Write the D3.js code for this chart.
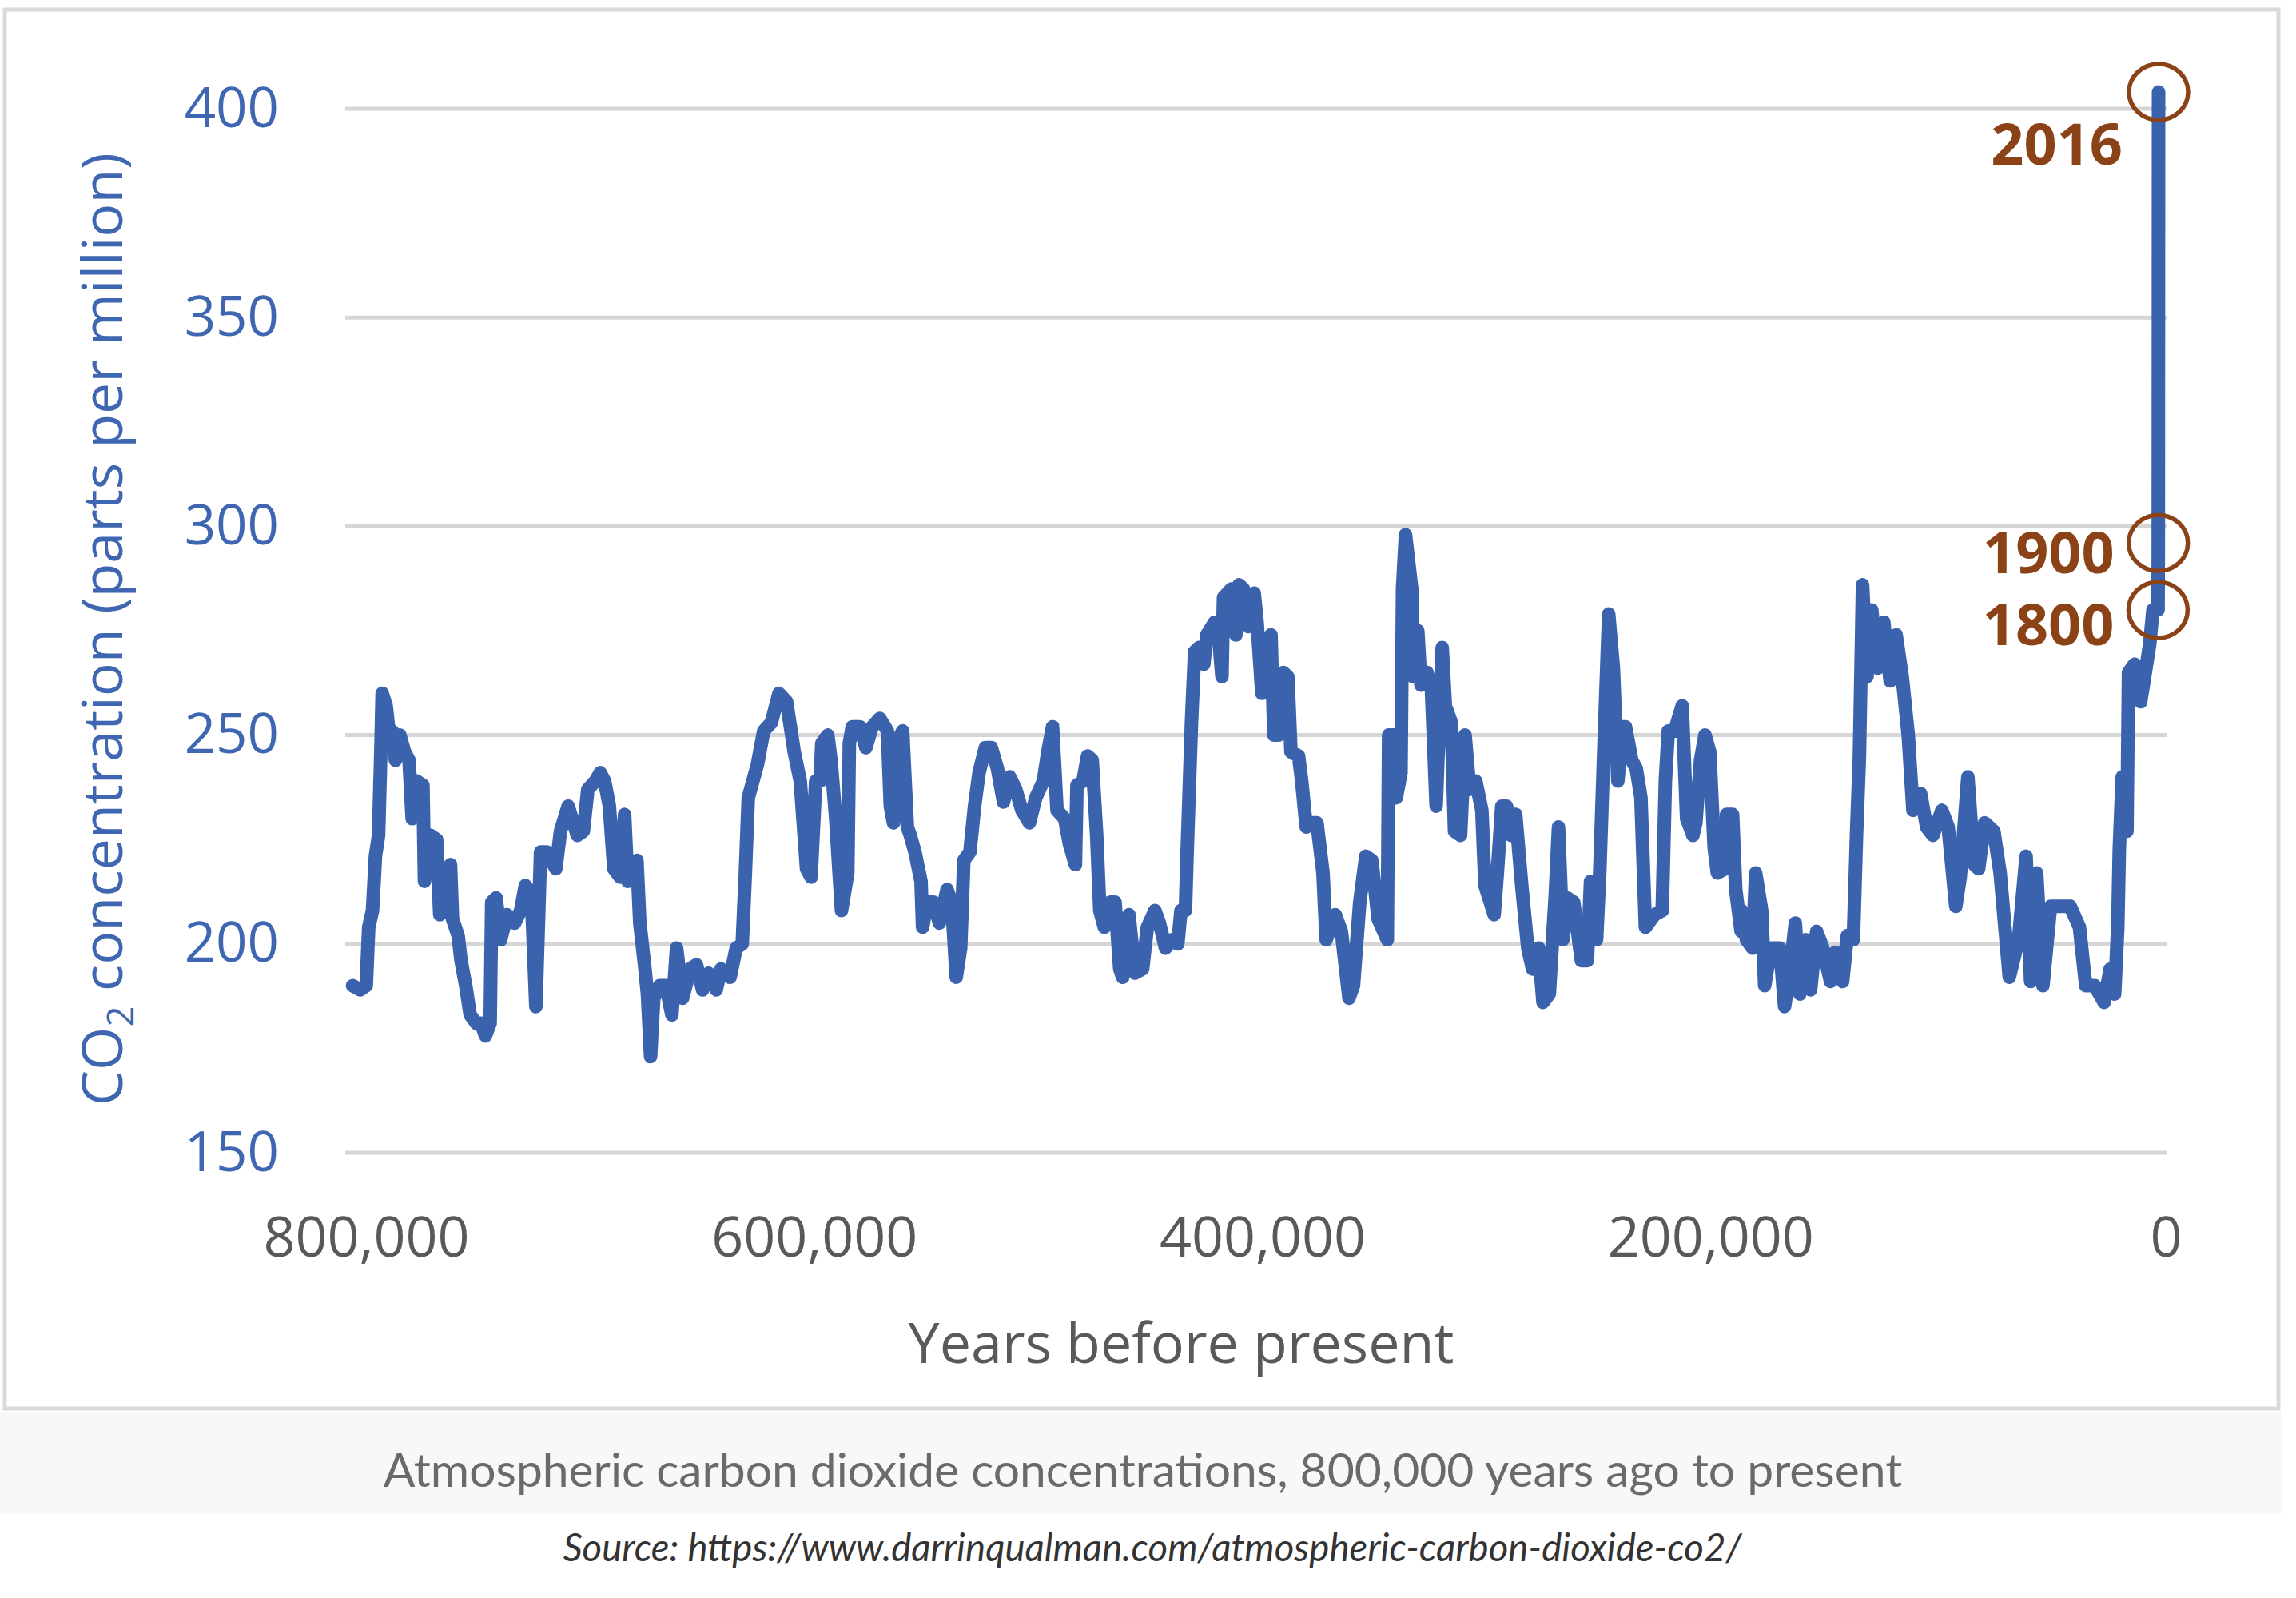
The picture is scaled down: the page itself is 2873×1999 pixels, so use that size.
<!DOCTYPE html>
<html>
<head>
<meta charset="utf-8">
<script src="https://cdn.jsdelivr.net/npm/d3@7"></script>
<style>
    html, body { margin: 0; padding: 0; background: #fff; }
    svg { display: block; }
</style>
</head>
<body>
<div id="chart"></div>
<script>
// Years before present and CO2 (ppm)
const yearsBP = [
    806000, 802600, 799900, 798800, 797100, 795800, 794400, 793300, 792800, 791000,
    789600, 788300, 786900, 784900, 782800, 780800, 779400, 777400, 774600, 773900,
    771200, 768500, 767100, 765100, 762300, 761400, 758900, 757600, 755500, 753500,
    750800, 748700, 746700, 744600, 743900, 741900, 739900, 737100, 733700, 731000,
    728900, 726200, 724200, 722100, 719400, 715300, 713200, 709800, 705700, 703000,
    701000, 697600, 695500, 693500, 691400, 689400, 686600, 684600, 683200, 679100,
    677800, 675700, 674400, 673000, 671600, 668900, 666200, 663500, 661400, 658700,
    655300, 652500, 649800, 647100, 643700, 641600, 637500, 634800, 632100, 630700,
    629400, 625300, 622500, 619100, 615700, 612300, 608900, 606200, 603400, 601400,
    599300, 597300, 596600, 593900, 592500, 590500, 587800, 585000, 584300, 583000,
    579600, 576900, 574100, 570700, 567300, 566000, 564600, 563200, 560500, 558400,
    557100, 555000, 552300, 551600, 549600, 546800, 544100, 540700, 538600, 536600,
    534600, 533200, 530500, 528400, 526400, 523600, 520900, 518200, 515500, 512700,
    510000, 507300, 503900, 501100, 497700, 495700, 493600, 491600, 488200, 486100,
    483400, 482700, 480000, 478000, 475900, 473900, 472500, 470500, 467700, 465700,
    463600, 462300, 459500, 456800, 453400, 451300, 447900, 445900, 443200, 440400,
    437700, 436300, 434300, 433600, 431600, 430200, 428200, 426100, 424800, 421300,
    420000, 418000, 417300, 413800, 411800, 410400, 408400, 406300, 403600, 402300,
    400200, 397500, 396100, 394800,
    392700, 390600, 388600, 387200, 383800, 382400, 380400, 378300, 375600, 372900,
    371500, 367400, 364700, 361300, 359300, 356500, 353800, 351100, 348300, 344200,
    343600, 341500, 340200, 338100, 337400, 336100, 333300, 332700, 330600, 329200,
    326500, 324500, 322400, 319700, 318300, 315600, 314200, 311500, 309500, 307400,
    304700, 302000, 300600, 296500, 295100, 293100, 291000, 289000, 286900, 284200,
    281500, 279400, 276700, 274700, 271900, 269200, 267800, 265800, 263800, 261000,
    257600, 254900, 253500, 250800, 249400, 247400, 245400, 243300, 241300, 239200,
    237900, 235100, 233100, 231000, 229000, 224900, 221500, 220100, 218800, 216000,
    212600, 210600, 207800, 206500, 204400, 202400, 200300, 198300, 196900, 193500,
    192800, 190100, 188700, 186300,
    186000, 183900, 181200, 179800, 177100, 175800, 173000, 169000, 166900, 164200,
    162100, 160100, 157400, 155300, 152600, 149800, 146400, 144400, 141000, 138900,
    136200, 134800, 133500, 132100, 130100, 128000, 125300, 122600, 119800, 117100,
    114400, 111700, 109600, 106200, 103500, 100700, 96700, 93900, 90500, 88500,
    85100, 82300, 80300, 77600, 73500, 70700, 66600, 62500, 59100, 57100,
    54400, 51600, 48200, 43400, 39400, 35300, 32500, 28500, 24300, 21600,
    19600, 18200, 17500, 16200, 14100, 13400, 10700, 8000, 5900, 3900,
    2500, 216, 116, 0
];

const co2ppm = [
    190, 189, 190, 204, 208, 221, 226, 248, 260, 257,
    250, 251, 244, 250, 246, 244, 230, 239, 238, 215,
    226, 225, 207, 217, 219, 206, 202, 196, 190, 183,
    181, 181, 178, 181, 210, 211, 201, 207, 205, 208,
    214, 212, 185, 222, 222, 218, 227, 233, 226, 227,
    237, 239, 241, 239, 233, 218, 216, 231, 215, 220,
    205, 195, 188, 173, 187, 190, 190, 183, 199, 187,
    194, 195, 189, 193, 189, 194, 192, 199, 200, 217,
    235, 243, 251, 253, 260, 258, 246, 239, 218, 216,
    239, 239, 248, 250, 244, 231, 208, 217, 248, 252,
    252, 247, 252, 254, 251, 233, 229, 248, 251, 228,
    226, 222, 215, 204, 210, 210, 205, 213, 210, 192,
    199, 220, 222, 233, 241, 247, 247, 242, 234, 240,
    237, 232, 229, 235, 239, 246, 252, 232, 230, 224,
    219, 238, 239, 245, 244, 226, 208, 204, 210, 210,
    194, 192, 207, 193, 194, 204, 208, 205, 199, 201,
    200, 208, 208, 221, 253, 270, 271, 267, 274, 277,
    277, 264, 283, 285, 274, 286, 285, 276, 284, 277,
    260, 273, 274, 250,
    250, 265, 264, 246, 245, 239, 228, 229, 229, 217,
    201, 207, 203, 187, 190, 210, 221, 220, 206, 201,
    250, 250, 235, 241, 285, 298, 285, 264, 275, 262,
    265, 261, 233, 271, 257, 253, 227, 226, 250, 237,
    239, 232, 214, 207, 217, 233, 233, 226, 231, 214,
    199, 194, 199, 186, 188, 212, 228, 201, 211, 210,
    196, 196, 215, 201, 217, 249, 279, 266, 239, 252,
    252, 244, 242, 235, 204, 207, 208, 239, 251, 251,
    257, 230, 226, 229, 244, 250, 246, 223, 217, 218,
    231, 231, 213, 203,
    208, 201, 199, 217, 208, 190, 199, 199, 185, 195,
    205, 188, 201, 189, 203, 199, 191, 198, 191, 202,
    201, 226, 245, 286, 264, 280, 266, 277, 263, 274,
    264, 250, 232, 236, 228, 226, 232, 228, 209, 216,
    240, 219, 218, 229, 227, 217, 192, 201, 221, 191,
    217, 190, 209, 209, 209, 204, 190, 190, 186, 194,
    188, 204, 223, 240, 227, 265, 267, 258, 265, 272,
    280, 280, 296, 404
];

const yTicks = [150, 200, 250, 300, 350, 400];
const xTicks = [800000, 600000, 400000, 200000, 0];

// Highlighted recent years
const markerLabels = ["2016", "1900", "1800"];
const markerYearsBP = [0, 116, 216];
const markerPpm = [404, 296, 280];

const yTitleMain = "CO";
const yTitleSub = "2";
const yTitleRest = " concentration (parts per million)";
const xTitle = "Years before present";
const captionText = "Atmospheric carbon dioxide concentrations, 800,000 years ago to present";
const sourceText = "Source: https://www.darrinqualman.com/atmospheric-carbon-dioxide-co2/";

document.addEventListener("DOMContentLoaded", () => {
    const config = {
        width: 2873,
        height: 1999,
        plot: { left: 432, right: 2712, top: 136, bottom: 1442 },
        xRange: [458, 2701],
        lineColor: "#3b63ad",
        axisBlue: "#3f66b0",
        grey: "#595959",
        brown: "#8a4216",
        labelOffsets: { "2016": [-45, 91], "1900": [-55, 38], "1800": [-55, 44] }
    };

    // shrink or grow a text so it spans the wanted width
    function fitWidth(sel, target) {
        const size = parseFloat(sel.style("font-size"));
        const w = sel.node().getComputedTextLength();
        if (w > 0) sel.style("font-size", (size * target / w) + "px");
    }

    const svg = d3.select("#chart")
        .append("svg")
        .attr("width", config.width)
        .attr("height", config.height);

    // Card and caption band
    svg.append("rect")
        .attr("x", 6).attr("y", 12)
        .attr("width", 2845).attr("height", 1750)
        .attr("fill", "#fff")
        .attr("stroke", "#dadada")
        .attr("stroke-width", 5);

    svg.append("rect")
        .attr("x", 0).attr("y", 1766)
        .attr("width", 2855).attr("height", 128)
        .attr("fill", "#f8f8f8");

    // Scales
    const x = d3.scaleLinear()
        .domain([800000, 0])
        .range(config.xRange);

    const y = d3.scaleLinear()
        .domain([150, 400])
        .range([config.plot.bottom, config.plot.top]);

    // Gridlines
    svg.append("g")
        .selectAll("line")
        .data(yTicks)
        .enter()
        .append("line")
        .attr("x1", config.plot.left)
        .attr("x2", config.plot.right)
        .attr("y1", d => y(d))
        .attr("y2", d => y(d))
        .attr("stroke", "#d6d6d6")
        .attr("stroke-width", 5);

    // Y axis labels
    const yAxis = svg.append("g")
        .attr("transform", `translate(${config.plot.left},0)`)
        .call(d3.axisLeft(y).tickValues(yTicks).tickSize(0).tickPadding(83));
    yAxis.select(".domain").remove();
    yAxis.selectAll("text")
        .attr("fill", config.axisBlue)
        .style("font-family", "'Open Sans', sans-serif")
        .style("font-size", "69px");

    // X axis labels
    const xAxis = svg.append("g")
        .attr("transform", `translate(0,${config.plot.bottom})`)
        .call(d3.axisBottom(x).tickValues(xTicks).tickSize(0).tickPadding(80)
            .tickFormat(d3.format(",")));
    xAxis.select(".domain").remove();
    xAxis.selectAll("text")
        .attr("fill", config.grey)
        .style("font-family", "'Open Sans', sans-serif")
        .style("font-size", "70px");
    // the "0" label sits a little right of the last data point in the original
    xAxis.selectAll(".tick").filter(d => d === 0).select("text").attr("x", 9);

    // Axis titles
    const yTitle = svg.append("text")
        .attr("transform", "translate(153,787) rotate(-90)")
        .attr("text-anchor", "middle")
        .attr("fill", config.axisBlue)
        .style("font-family", "'Open Sans', sans-serif")
        .style("font-size", "70px");
    yTitle.append("tspan").text(yTitleMain);
    yTitle.append("tspan").attr("dy", "0.3em").style("font-size", "0.65em").text(yTitleSub);
    yTitle.append("tspan").attr("dy", "-0.195em").text(yTitleRest);
    fitWidth(yTitle, 1192);

    const xTitleText = svg.append("text")
        .attr("x", 1478)
        .attr("y", 1705)
        .attr("text-anchor", "middle")
        .attr("fill", config.grey)
        .style("font-family", "'Open Sans', sans-serif")
        .style("font-size", "72px")
        .text(xTitle);
    fitWidth(xTitleText, 683);

    // CO2 line
    const series = yearsBP.map((yr, i) => ({ yr, ppm: co2ppm[i] }));
    const line = d3.line()
        .x(d => x(d.yr))
        .y(d => y(d.ppm));

    svg.append("path")
        .datum(series)
        .attr("d", line)
        .attr("fill", "none")
        .attr("stroke", config.lineColor)
        .attr("stroke-width", 17)
        .attr("stroke-linejoin", "round")
        .attr("stroke-linecap", "round");

    // Recent-year markers
    const markers = markerLabels.map((label, i) => ({
        label, yr: markerYearsBP[i], ppm: markerPpm[i]
    }));

    const mk = svg.append("g")
        .selectAll("g")
        .data(markers)
        .enter()
        .append("g");

    mk.append("ellipse")
        .attr("cx", d => x(d.yr))
        .attr("cy", d => y(d.ppm))
        .attr("rx", 37)
        .attr("ry", 35)
        .attr("fill", "none")
        .attr("stroke", config.brown)
        .attr("stroke-width", 5.5);

    mk.append("text")
        .attr("x", d => x(d.yr) + config.labelOffsets[d.label][0])
        .attr("y", d => y(d.ppm) + config.labelOffsets[d.label][1])
        .attr("text-anchor", "end")
        .attr("fill", config.brown)
        .style("font-family", "'Open Sans', sans-serif")
        .style("font-weight", "700")
        .style("font-size", "72px")
        .text(d => d.label);

    // Caption and source
    const cap = svg.append("text")
        .attr("x", 1430)
        .attr("y", 1860)
        .attr("text-anchor", "middle")
        .attr("fill", "#6a6a6a")
        .style("font-family", "Lato, sans-serif")
        .style("font-size", "54px")
        .text(captionText);
    fitWidth(cap, 1901);

    const src = svg.append("text")
        .attr("x", 1442)
        .attr("y", 1953)
        .attr("text-anchor", "middle")
        .attr("fill", "#333")
        .style("font-family", "Lato, sans-serif")
        .style("font-style", "italic")
        .style("font-size", "44px")
        .text(sourceText);
    fitWidth(src, 1475);
});
</script>
</body>
</html>
